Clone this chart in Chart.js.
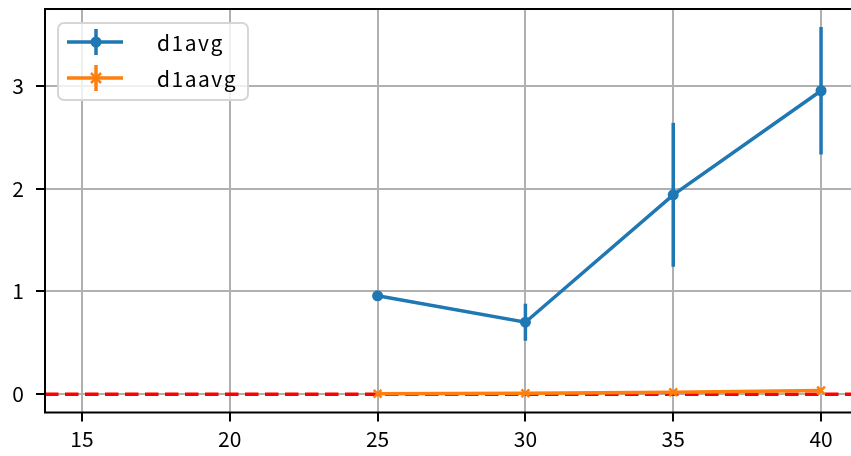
<!DOCTYPE html>
<html>
<head>
<meta charset="utf-8">
<script src="https://cdn.jsdelivr.net/npm/chart.js@4"></script>
<style>
  html, body { margin: 0; padding: 0; background: #fff; overflow: hidden; }
  #wrap { width: 851px; height: 456px; overflow: hidden; position: relative; }
  canvas { display: block; }
</style>
</head>
<body>
<div id="wrap"><canvas id="chart" width="866" height="480" style="width:866px;height:480px"></canvas></div>
<script>
// ---------- Data ----------
const xValues = [25, 30, 35, 40];
const d1avg = [0.957, 0.70, 1.939, 2.951];
const d1avgErr = [0.02, 0.18, 0.70, 0.62];
const d1aavg = [0.005, 0.01, 0.018, 0.035];
const d1aavgErr = [0.004, 0.005, 0.006, 0.008];
const xTicks = [15, 20, 25, 30, 35, 40];
const yTicks = [0, 1, 2, 3];
const xRange = [13.75, 41.25];
const yRange = [-0.178, 3.746];
const seriesNames = ['d1avg', 'd1aavg'];
const xTitle = 'SNR [dB]';

// ---------- Styles ----------
const BLUE = '#1f77b4', ORANGE = '#ff7f0e', RED = '#ff0000';
const FONT = '"Noto Sans CJK JP", "Noto Sans", sans-serif';
const toPts = (ys) => xValues.map((x, i) => ({ x, y: ys[i] }));

// red dashed zero line (axhline)
const zeroLine = {
  id: 'zeroLine',
  beforeDatasetsDraw(chart) {
    const { ctx, chartArea: a, scales: { y } } = chart;
    const py = y.getPixelForValue(0);
    ctx.save();
    ctx.beginPath();
    ctx.rect(a.left, a.top, a.right - a.left, a.bottom - a.top);
    ctx.clip();
    ctx.strokeStyle = RED;
    ctx.lineWidth = 3.5;
    ctx.setLineDash([13.5, 6.5]);
    ctx.beginPath();
    ctx.moveTo(a.left, py);
    ctx.lineTo(a.right, py);
    ctx.stroke();
    ctx.restore();
  },
};

// vertical error bars, drawn through the scales
const errorBars = {
  id: 'errorBars',
  beforeDatasetsDraw(chart) {
    const { ctx, scales: { x, y } } = chart;
    const sets = [[d1avg, d1avgErr, BLUE], [d1aavg, d1aavgErr, ORANGE]];
    ctx.save();
    ctx.lineWidth = 3.5;
    sets.forEach(([vals, errs, color]) => {
      ctx.strokeStyle = color;
      vals.forEach((v, i) => {
        const px = x.getPixelForValue(xValues[i]);
        ctx.beginPath();
        ctx.moveTo(px, y.getPixelForValue(v - errs[i]));
        ctx.lineTo(px, y.getPixelForValue(v + errs[i]));
        ctx.stroke();
      });
    });
    ctx.restore();
  },
};

// top/right spines + matplotlib style legend
const frameAndLegend = {
  id: 'frameAndLegend',
  afterDraw(chart) {
    const { ctx, chartArea: a } = chart;
    ctx.save();
    ctx.strokeStyle = '#000';
    ctx.lineWidth = 2;
    ctx.strokeRect(a.left, a.top, a.right - a.left, a.bottom - a.top);

    // legend box
    const bx = 58, by = 23, bw = 190, bh = 77, r = 6;
    ctx.beginPath();
    ctx.roundRect(bx, by, bw, bh, r);
    ctx.fillStyle = 'rgba(255,255,255,0.8)';
    ctx.fill();
    ctx.strokeStyle = '#d6d6d6';
    ctx.lineWidth = 2;
    ctx.stroke();

    const rows = [
      { y: 42, color: BLUE, marker: 'circle' },
      { y: 78, color: ORANGE, marker: 'x' },
    ];
    rows.forEach((row, i) => {
      ctx.strokeStyle = row.color;
      ctx.fillStyle = row.color;
      ctx.lineWidth = 3.5;
      ctx.beginPath();
      ctx.moveTo(67, row.y); ctx.lineTo(123, row.y);
      ctx.moveTo(96, row.y - 13); ctx.lineTo(96, row.y + 13);
      ctx.stroke();
      if (row.marker === 'circle') {
        ctx.beginPath();
        ctx.arc(96, row.y, 5.5, 0, Math.PI * 2);
        ctx.fill();
      } else {
        ctx.lineWidth = 2.5;
        ctx.beginPath();
        ctx.moveTo(91, row.y - 5); ctx.lineTo(101, row.y + 5);
        ctx.moveTo(91, row.y + 5); ctx.lineTo(101, row.y - 5);
        ctx.stroke();
      }
      ctx.fillStyle = '#000';
      ctx.font = '21px ' + FONT;
      ctx.letterSpacing = '1.5px';
      ctx.textBaseline = 'middle';
      ctx.textAlign = 'left';
      ctx.fillText(seriesNames[i], 157, row.y + 1);
    });
    ctx.restore();
  },
};

new Chart(document.getElementById('chart'), {
  type: 'line',
  data: {
    datasets: [
      {
        label: seriesNames[0],
        data: toPts(d1avg),
        borderColor: BLUE, backgroundColor: BLUE,
        borderWidth: 3.5, pointRadius: 5.5, pointHoverRadius: 5.5,
        pointBorderWidth: 0, tension: 0,
      },
      {
        label: seriesNames[1],
        data: toPts(d1aavg),
        borderColor: ORANGE, backgroundColor: ORANGE,
        borderWidth: 3.5, pointStyle: 'crossRot', pointRadius: 5.5,
        pointBorderWidth: 2.5, tension: 0,
      },
    ],
  },
  options: {
    responsive: false, animation: false,
    layout: { padding: { top: 9, right: 3, left: 0, bottom: 0 } },
    plugins: { legend: { display: false }, tooltip: { enabled: false } },
    scales: {
      x: {
        type: 'linear', min: xRange[0], max: xRange[1],
        afterBuildTicks: (s) => { s.ticks = xTicks.map((v) => ({ value: v })); },
        afterFit: (s) => { s.height = 67.5; s.paddingLeft = 0; s.paddingRight = 0; },
        grid: { color: '#b0b0b0', lineWidth: 2, tickColor: '#000', tickLength: 9, tickWidth: 2 },
        border: { display: false },
        ticks: { color: '#000', font: { family: FONT, size: 21 }, padding: 5, maxRotation: 0 },
        title: { display: true, text: xTitle, color: '#000', font: { family: FONT, size: 21 }, padding: { top: 4, bottom: 1.5 } },
      },
      y: {
        type: 'linear', min: yRange[0], max: yRange[1],
        afterBuildTicks: (s) => { s.ticks = yTicks.map((v) => ({ value: v })); },
        afterFit: (s) => { s.width = 45; s.paddingTop = 0; s.paddingBottom = 0; },
        grid: { color: '#b0b0b0', lineWidth: 2, tickColor: '#000', tickLength: 9, tickWidth: 2 },
        border: { display: false },
        ticks: { color: '#000', font: { family: FONT, size: 21 }, padding: 12 },
      },
    },
  },
  plugins: [zeroLine, errorBars, frameAndLegend],
});
</script>
</body>
</html>
